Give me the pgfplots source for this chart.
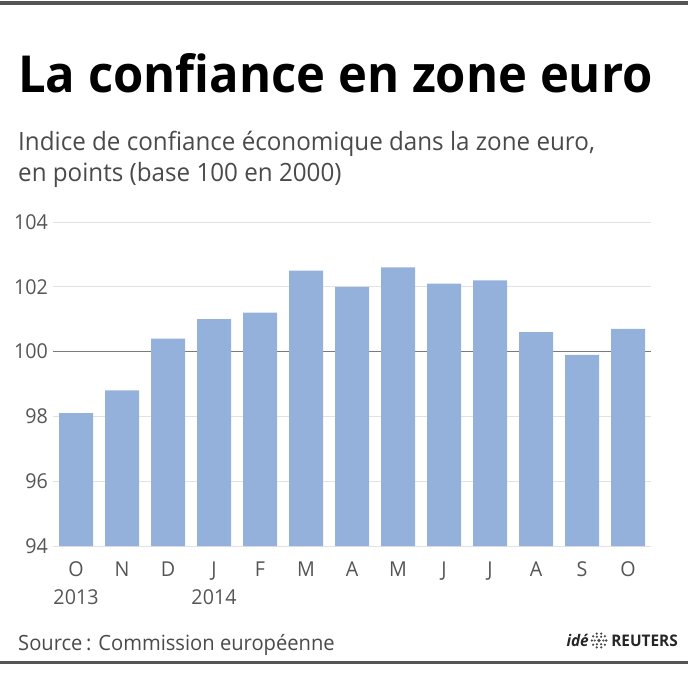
\documentclass[border=0pt]{standalone}
\usepackage{fontspec}
\setmainfont{Open Sans}[FakeStretch=0.96]
\usepackage{pgfplots}
\pgfplotsset{compat=1.18}

\definecolor{barblue}{HTML}{94B1DC}
\definecolor{ticktext}{HTML}{555555}
\definecolor{subtext}{HTML}{4A4A4A}
\definecolor{gridgray}{HTML}{E2E2E2}
\definecolor{baseline}{HTML}{7A7A7A}
\definecolor{rulegray}{HTML}{555555}

% Economic sentiment indicator, euro area (Oct 2013 - Oct 2014)
\pgfplotstableread{
idx value
0  98.1
1  98.8
2  100.4
3  101.0
4  101.2
5  102.5
6  102.0
7  102.6
8  102.1
9  102.2
10 100.6
11 99.9
12 100.7
}\esidata

\begin{document}
\begin{tikzpicture}
\path[use as bounding box] (0pt,0pt) rectangle (688pt,675pt);

% top and bottom rules
\fill[rulegray] (0pt,670pt) rectangle (688pt,673.5pt);
\fill[rulegray] (0pt,11.5pt) rectangle (688pt,14.5pt);

% title block
\node[anchor=base west, inner sep=0pt, font=\fontsize{51}{51}\selectfont\bfseries]
  at (18pt,582pt) {La confiance en zone euro};
\node[anchor=base west, inner sep=0pt, font=\fontsize{25.2}{30}\selectfont, text=subtext]
  at (18pt,524pt) {Indice de confiance économique dans la zone euro,};
\node[anchor=base west, inner sep=0pt, font=\fontsize{25.2}{30}\selectfont, text=subtext]
  at (18pt,493pt) {en points (base 100 en 2000)};

\begin{axis}[
  at={(53pt,129pt)}, anchor=south west,
  scale only axis, width=598pt, height=324pt,
  xmin=-0.5, xmax=12.5, ymin=94, ymax=104,
  ybar, bar width=34pt,
  axis line style={draw=none},
  tick style={draw=none},
  ytick={94,96,98,102,104},
  extra y ticks={100},
  extra y tick style={grid style={draw=baseline, line width=1pt}},
  ymajorgrids, grid style={draw=gridgray, line width=0.8pt},
  xtick={0,...,12},
  xticklabels={{O\\2013},N,D,{J\\2014},F,M,A,M,J,J,A,S,O},
  /pgf/number format/assume math mode=true,
  yticklabel style={font=\fontsize{20.5}{20.5}\selectfont, text=ticktext, anchor=east, inner sep=0pt, xshift=-5pt},
  xticklabel style={font=\fontsize{20.5}{28}\selectfont, text=ticktext, align=center, anchor=north, inner sep=0pt, yshift=-11pt},
]
\addplot[fill=barblue, draw=none] table[x=idx, y=value] {\esidata};
\end{axis}

% source line and agency credit
\node[anchor=base west, inner sep=0pt, font=\fontsize{21}{21}\selectfont, text=subtext]
  at (18pt,25pt) {Source\,: Commission européenne};
\node[anchor=base east, inner sep=0pt, font=\fontsize{16}{16}\selectfont\bfseries, text=black!85]
  at (678pt,29pt) {REUTERS};
\begin{scope}[shift={(599pt,34.5pt)}]
  \fill[black!70] (0pt,0pt) circle (1.8pt);
  \foreach \r/\n/\s in {4.3/6/1.2, 7.2/10/1.3}{
    \foreach \k in {1,...,\n}{
      \fill[black!70] ({\r*cos(360*\k/\n)*1pt},{\r*sin(360*\k/\n)*1pt}) circle (\s pt);
    }
  }
\end{scope}
\node[anchor=base east, inner sep=0pt, font=\fontsize{16}{16}\selectfont\bfseries\itshape, text=black!85]
  at (589pt,29pt) {idé};
\end{tikzpicture}
\end{document}
